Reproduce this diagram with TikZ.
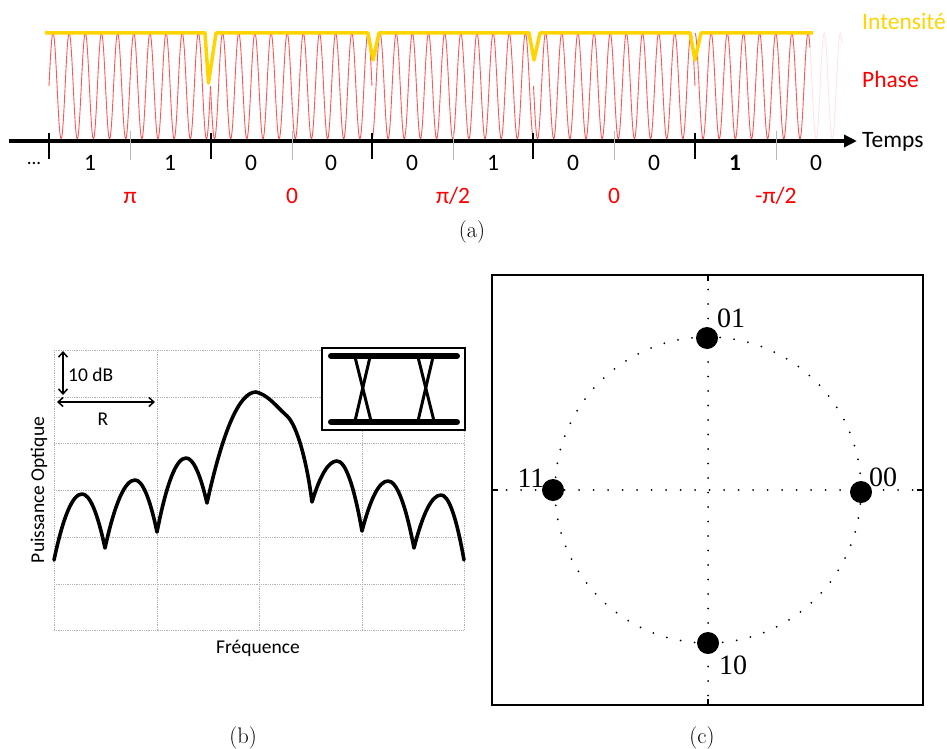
\documentclass[tikz,border=0pt]{standalone}
\usepackage{fontspec}
\newfontfamily\calib{Carlito}
\newfontfamily\tnr{Liberation Serif}
\usetikzlibrary{arrows.meta}
\definecolor{gold}{RGB}{255,212,0}
\definecolor{wavered}{RGB}{255,85,85}
\begin{document}
\begin{tikzpicture}[x=1pt,y=-1pt,
  every node/.style={inner sep=0pt},
  lab/.style={font=\calib\fontsize{23.5}{27}\selectfont},
  redlab/.style={lab,text=red},
  blab/.style={font=\calib\fontsize{19.5}{23}\selectfont},
  captext/.style={font=\fontsize{22.5}{26}\selectfont},
  clab/.style={font=\tnr\fontsize{28}{32}\selectfont},
  wave/.style={wavered,line width=0.9pt},
  majortick/.style={line width=2.5pt},
  minortick/.style={gray!55,line width=1pt},
  gridline/.style={gray!60,densely dotted,line width=0.8pt},
  dotline/.style={line width=2pt,line cap=round,dash pattern=on 0pt off 14.5pt},
  dimarrow/.style={line width=1.5pt,{Straight Barb[length=5pt,width=9pt]}-{Straight Barb[length=5pt,width=9pt]}},
  spec/.style={line width=3.6pt,line join=round,line cap=round},
  eyebar/.style={line width=6pt,line cap=round},
  eyecross/.style={line width=3pt,line cap=round}]
\useasboundingbox (0,0) rectangle (947,749);

% ===================== (a) =====================
\foreach \xs/\xe/\ph in {49/210.5/0, 210.5/372/-180, 372/533.5/-90, 533.5/695/-180}
  \draw[wave] plot[domain=\xs:\xe, samples=241] (\x, {86-53*sin((\x-\xs)*22.291+\ph)});
\draw[wave] plot[domain=695:810, samples=180] (\x, {86-53*sin((\x-695)*22.291+90)});
\draw[wave,opacity=0.15] plot[domain=810:842, samples=60] (\x, {86-53*sin((\x-695)*22.291+90)});

\draw[gold,line width=3.5pt,line join=round]
  (45,33) -- (205,33) -- (208.5,83) -- (216,33) -- (368,33) -- (373,60) -- (379,33)
  -- (529,33) -- (534,60) -- (540,33) -- (690,33) -- (695,60) -- (701,33) -- (813,33);

\draw[line width=4pt,-{Triangle[length=13pt,width=12pt]}] (9,141) -- (857,141);
\foreach \t in {49,211,372,533,695} \draw[majortick] (\t,133) -- (\t,159);
\foreach \t in {130,292,453,614,776} \draw[minortick] (\t,131) -- (\t,160);

\node[anchor=base west,lab,text=gold] (int) at (862,30) {Intensité};
\node[anchor=base west,redlab] (pha) at (862,88) {Phase};
\node[anchor=base west,lab] (tps) at (862,147) {Temps};

\node[anchor=base,font=\calib\fontsize{19}{21}\selectfont] (dots) at (34,164) {...};
\node[anchor=base,lab] (b1) at (90,170) {1};
\node[anchor=base,lab] (b2) at (170,170) {1};
\node[anchor=base,lab] (b3) at (251,170) {0};
\node[anchor=base,lab] (b4) at (331,170) {0};
\node[anchor=base,lab] (b5) at (412,170) {0};
\node[anchor=base,lab] (b6) at (493,170) {1};
\node[anchor=base,lab] (b7) at (573,170) {0};
\node[anchor=base,lab] (b8) at (654,170) {0};
\node[anchor=base,lab,font=\calib\bfseries\fontsize{23.5}{27}\selectfont] (b9) at (735,170) {1};
\node[anchor=base,lab] (b10) at (816,170) {0};

\node[anchor=base,redlab] (p1) at (130,203) {π};
\node[anchor=base,redlab] (p2) at (292,203) {0};
\node[anchor=base,redlab] (p3) at (453,203) {π/2};
\node[anchor=base,redlab] (p4) at (614,203) {0};
\node[anchor=base,redlab] (p5) at (776,203) {-π/2};

\node[captext] (capa) at (472,232) {(a)};

% ===================== (b) =====================
\foreach \gx in {54,157,259,362,464} \draw[gridline] (\gx,350) -- (\gx,630);
\foreach \gy in {350,397,443,490,537,584,630} \draw[gridline] (54,\gy) -- (464,\gy);

\draw[spec]
 (54,560) .. controls (63.3,516) and (72.7,494) .. (82,494)
 .. controls (89.7,494) and (97.3,512) .. (105,548)
 .. controls (115,502.7) and (125,480) .. (135,480)
 .. controls (142.3,480) and (149.7,497.3) .. (157,532)
 .. controls (166.7,482.7) and (176.3,458) .. (186,458)
 .. controls (193,458) and (200,473) .. (207,503)
 .. controls (223.3,429) and (239.7,392) .. (256,392)
 .. controls (268,395) and (275,405) .. (287,416)
 .. controls (297,425) and (307,462) .. (312,502)
 .. controls (320.3,474.7) and (328.7,461) .. (337,461)
 .. controls (345.3,461) and (353.7,484.3) .. (362,531)
 .. controls (370.7,497.7) and (379.3,481) .. (388,481)
 .. controls (396.7,481) and (405.3,503.3) .. (414,548)
 .. controls (423,512.7) and (432,495) .. (441,495)
 .. controls (448.7,495) and (456.3,516.7) .. (464,560);

\coordinate (dbA) at (63,351); \coordinate (dbB) at (63,395);
\coordinate (rA) at (57,402); \coordinate (rB) at (155,402);
\draw[dimarrow] (dbA) -- (dbB);
\draw[dimarrow] (rA) -- (rB);
\node[anchor=base west,blab] (db) at (68,381) {10 dB};
\node[anchor=base,blab] (rr) at (103,425) {R};

\draw[line width=2.5pt,fill=white] (322,348) rectangle (465,430);
\draw[eyebar] (331,356) -- (457,356);
\draw[eyebar] (331,422) -- (457,422);
\draw[eyecross] (355,357) -- (371,421);
\draw[eyecross] (370,357) -- (355,421);
\draw[eyecross] (418,357) -- (434,421);
\draw[eyecross] (433,357) -- (418,421);

\node[blab,rotate=90] (ylab) at (39,490) {Puissance Optique};
\node[anchor=base,blab] (xlab) at (258,653) {Fréquence};
\node[captext] (capb) at (243,738) {(b)};

% ===================== (c) =====================
\draw[line width=2pt] (492,275) rectangle (923,705);
\draw[dotline] (492,490) -- (923,490);
\draw[dotline] (708,275) -- (708,705);
\draw[line width=1.5pt] (708,275) -- (708,281) (708,699) -- (708,705) (492,490) -- (498,490) (917,490) -- (923,490);
\draw[dotline,dash pattern=on 0pt off 14.1pt] (708,490) circle[radius=153];
\fill (707,338) circle[radius=11];
\fill (553,490) circle[radius=11];
\fill (861,492) circle[radius=11];
\fill (708,643) circle[radius=11];
\node[clab] (c01) at (731,318) {01};
\node[clab] (c11) at (531,478) {11};
\node[clab] (c00) at (883,477) {00};
\node[clab] (c10) at (733,665) {10};
\node[captext] (capc) at (702,738) {(c)};
\end{tikzpicture}
\end{document}
